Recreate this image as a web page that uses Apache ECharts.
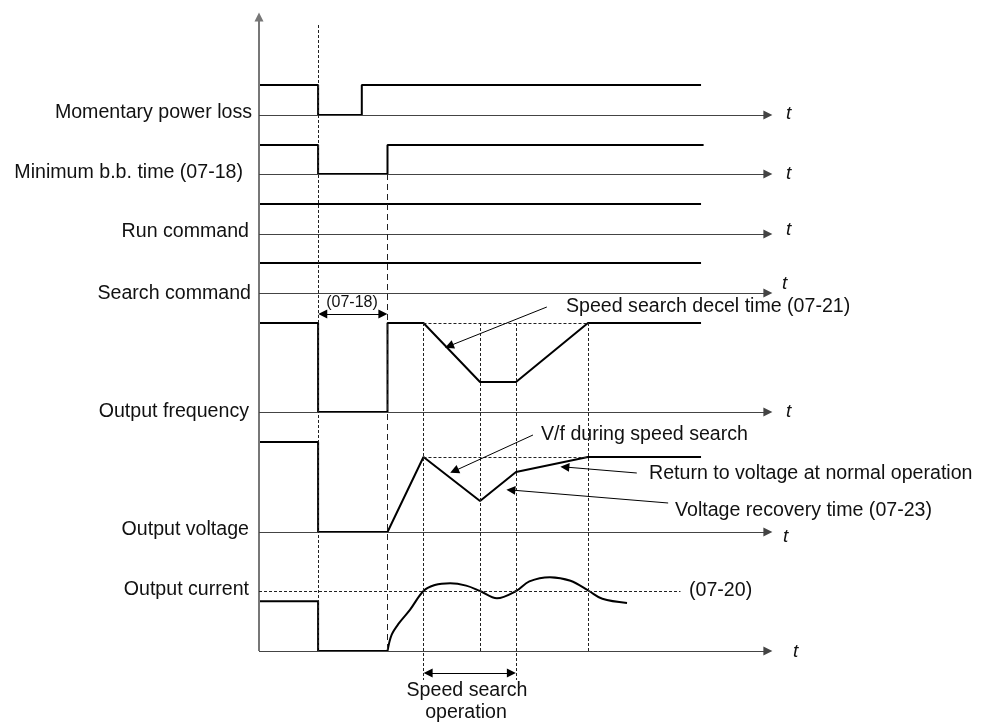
<!DOCTYPE html>
<html><head><meta charset="utf-8">
<script src="https://cdn.jsdelivr.net/npm/echarts@6/dist/echarts.min.js"></script>
<style>html,body{margin:0;padding:0;background:#fff}#c{width:981px;height:723px}</style>
</head><body><div id="c"></div>
<script>
// ---------- DATA ----------
const signalNames = ['Momentary power loss', 'Minimum b.b. time (07-18)', 'Run command', 'Search command', 'Output frequency', 'Output voltage', 'Output current'];
// event times (time units)
const tLoss = 11.5, tRestore = 20, tBB = 25, tS1 = 32, tS2 = 43, tS3 = 50, tS4 = 64;
// waveforms (time, normalized level)
const lossT = [0, 11.5, 11.5, 20, 20, 86];
const lossV = [1, 1, 0, 0, 1, 1];
const bbT = [0, 11.5, 11.5, 25, 25, 86.5];
const bbV = [1, 1, 0, 0, 1, 1];
const runT = [0, 86];
const runV = [1, 1];
const searchT = [0, 86];
const searchV = [1, 1];
const freqT = [0, 11.5, 11.5, 25, 25, 32, 43, 50, 64, 86];
const freqV = [1, 1, 0, 0, 1, 1, 0.337, 0.337, 1, 1];
const voltT = [0, 11.5, 11.5, 25, 32, 43, 50, 64, 86];
const voltV = [1, 1, 0, 0, 0.833, 0.344, 0.667, 0.833, 0.833];
const currStepT = [0, 11.5, 11.5, 25];
const currStepV = [0.83, 0.83, 0, 0];
const currCurveT = [25, 25.8, 27.2, 29.4, 32, 34.2, 37.2, 40.3, 43, 46.3, 50, 52.6, 56.6, 60.6, 64.2, 66.8, 71.6];
const currCurveV = [0, 0.27, 0.46, 0.69, 1.0, 1.10, 1.13, 1.09, 1.0, 0.88, 1.0, 1.16, 1.23, 1.17, 1.0, 0.87, 0.80];
const currentLevel0720 = 1.0;
const voltPeak = 0.833;

// ---------- LAYOUT ----------
const lanes = {
  loss: { base: 536, amp: 30 }, bb: { base: 477, amp: 29 }, run: { base: 417, amp: 30 },
  search: { base: 358, amp: 30 }, freq: { base: 239, amp: 89 }, volt: { base: 119, amp: 90 },
  curr: { base: 0, amp: 60 }
};
const lv = (lane, v) => lanes[lane].base + v * lanes[lane].amp;
const pts = (lane, T, V) => T.map((t, i) => [t, lv(lane, V[i])]);
const FONT = '"Liberation Sans", Arial, sans-serif';

const sig = (lane, T, V, smooth) => ({
  type: 'line', data: pts(lane, T, V), symbol: 'none', smooth: smooth || false,
  lineStyle: { color: '#000', width: 2 }, silent: true, animation: false, clip: false
});

const ml = (data, symbol, lineStyle, size) => ({
  type: 'line', data: [], silent: true, animation: false, clip: false,
  markLine: {
    silent: true, animation: false, symbol: symbol, symbolSize: size || 9,
    label: { show: false }, emphasis: { disabled: true },
    lineStyle: lineStyle, data: data
  }
});
const seg = (t1, v1, t2, v2) => [{ coord: [t1, v1] }, { coord: [t2, v2] }];

const laneKeys = ['loss', 'bb', 'run', 'search', 'freq', 'volt', 'curr'];
const baselines = laneKeys.map(k => seg(0, lanes[k].base, 99, lanes[k].base));
const vAxis = [seg(0, 0, 0, 634)];

const fHigh = lv('freq', 1);
const guidesShort = [
  seg(tLoss, 626, tLoss, 0),
  seg(tS1, fHigh, tS1, -29), seg(tS2, fHigh, tS2, 0), seg(tS3, fHigh, tS3, -29), seg(tS4, fHigh, tS4, 0),
  seg(tS1, fHigh, tS4, fHigh), seg(tS1, lv('volt', voltPeak), tS4, lv('volt', voltPeak)),
  seg(0, lv('curr', currentLevel0720), 82, lv('curr', currentLevel0720))
];
const guidesLong = [seg(tBB, lanes.bb.base, tBB, 0)];
const annoArrows = [
  seg(56.0, 344, 37.0, 305),
  seg(53.3, 216, 38.0, 180),
  seg(73.5, 178, 59.5, 184),
  seg(79.6, 148, 49.0, 161)
];
const doubleArrows = [seg(tLoss + 0.9, 337, tBB - 0.9, 337), seg(tS1 + 0.9, -22, tS3 - 0.9, -22)];

const txt = (text, x, y, align, size, style) => ({
  type: 'text', x: x, y: y, silent: true,
  style: { text: text, fill: '#111', font: (style || '') + ' ' + (size || 19.6) + 'px ' + FONT,
    align: align || 'left', verticalAlign: 'middle', textAlign: align || 'left', textVerticalAlign: 'middle' }
});

const labelPos = [[252, 113], [243, 173], [249, 232], [251, 294], [249, 412], [249, 530], [249, 590]];
const tPos = [[786, 114], [786, 174], [786, 230], [782, 284], [786, 412], [783, 537], [793, 652]];

const graphics = [];
signalNames.forEach((n, i) => graphics.push(txt(n, labelPos[i][0], labelPos[i][1], 'right')));
tPos.forEach(p => graphics.push(txt('t', p[0], p[1], 'left', 19, 'italic')));
graphics.push(txt('(07-18)', 352, 303, 'center', 16));
graphics.push(txt('Speed search decel time (07-21)', 566, 307, 'left'));
graphics.push(txt('V/f during speed search', 541, 435, 'left'));
graphics.push(txt('Return to voltage at normal operation', 649, 474, 'left'));
graphics.push(txt('Voltage recovery time (07-23)', 675, 511, 'left'));
graphics.push(txt('(07-20)', 689, 591, 'left'));
graphics.push(txt('Speed search', 467, 691, 'center'));
graphics.push(txt('operation', 466, 713, 'center'));

const chart = echarts.init(document.getElementById('c'), null, { renderer: 'canvas' });
chart.setOption({
  backgroundColor: '#fff',
  animation: false,
  grid: { left: 259, right: 208, top: 11, bottom: 22, containLabel: false, outerBoundsMode: 'none' },
  xAxis: { type: 'value', min: 0, max: 100, show: false },
  yAxis: { type: 'value', min: -50, max: 640, show: false },
  graphic: graphics,
  series: [
    ml(vAxis, ['none', 'triangle'], { color: '#777', width: 2, type: 'solid' }, 9),
    ml(baselines, ['none', 'triangle'], { color: '#444', width: 1, type: 'solid' }, 9),
    ml(guidesShort, ['none', 'none'], { color: '#222', width: 1, type: [3, 2] }),
    ml(guidesLong, ['none', 'none'], { color: '#222', width: 1, type: [6, 4] }),
    ml(annoArrows, ['none', 'triangle'], { color: '#000', width: 1, type: 'solid' }, 9),
    ml(doubleArrows, ['triangle', 'triangle'], { color: '#000', width: 1, type: 'solid' }, 9),
    sig('loss', lossT, lossV), sig('bb', bbT, bbV), sig('run', runT, runV), sig('search', searchT, searchV),
    sig('freq', freqT, freqV), sig('volt', voltT, voltV),
    sig('curr', currStepT, currStepV), sig('curr', currCurveT, currCurveV, 0.35)
  ]
});
</script></body></html>
